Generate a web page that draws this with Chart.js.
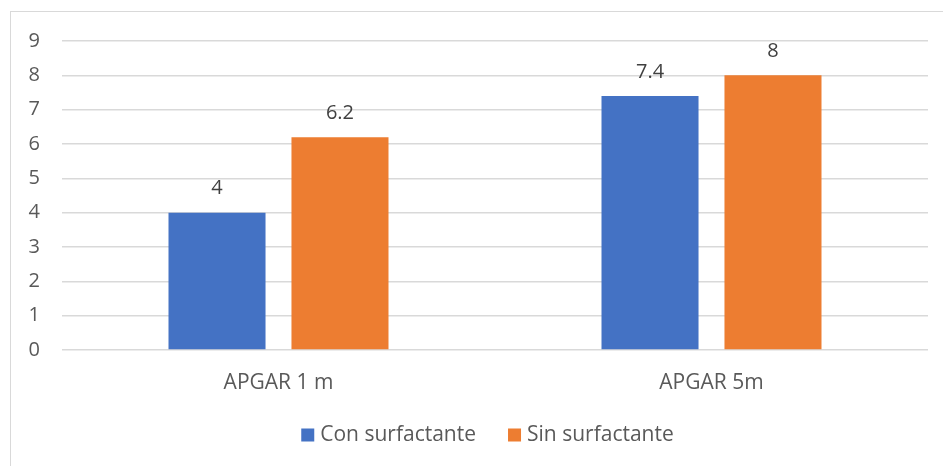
<!DOCTYPE html>
<html lang="en">
<head>
    <meta charset="UTF-8">
    <title>APGAR</title>
    <style>
        body { margin: 0; background: white; }
        #wrap { position: relative; width: 943px; height: 466px; overflow: hidden; }
        #frame {
            position: absolute; left: 10px; top: 11px; width: 960px; height: 480px;
            border: 1px solid #d9d9d9; box-sizing: border-box; pointer-events: none;
        }
        canvas { position: absolute; left: 0; top: 0; }
    </style>
    <script src="https://cdn.jsdelivr.net/npm/chart.js"></script>
</head>
<body>
    <div id="wrap">
        <canvas id="chart" width="943" height="466"></canvas>
        <div id="frame"></div>
    </div>
    <script>
        const categories = ['APGAR 1 m', 'APGAR 5m'];
        const conSurfactante = [4, 7.4];
        const sinSurfactante = [6.2, 8];
        const yTicks = [0, 1, 2, 3, 4, 5, 6, 7, 8, 9];

        const textColor = '#595959';
        const fontFamily = '"Open Sans", Calibri, sans-serif';

        // draws the value above each bar
        const valueLabels = {
            id: 'valueLabels',
            afterDatasetsDraw(chart) {
                const ctx = chart.ctx;
                ctx.save();
                ctx.font = '20px ' + fontFamily;
                ctx.fillStyle = '#404040';
                ctx.textAlign = 'center';
                ctx.textBaseline = 'middle';
                chart.data.datasets.forEach((ds, i) => {
                    chart.getDatasetMeta(i).data.forEach((bar, j) => {
                        ctx.fillText(String(ds.data[j]), bar.x, bar.y - 24);
                    });
                });
                ctx.restore();
            }
        };

        // legend drawn by hand so it can sit a bit right of centre, like the original
        const bottomLegend = {
            id: 'bottomLegend',
            afterDraw(chart) {
                const ctx = chart.ctx;
                const box = 13, gap = 6, spacing = 32, y = 435;
                ctx.save();
                ctx.font = '21px ' + fontFamily;
                ctx.textBaseline = 'middle';
                const items = chart.data.datasets.map(ds => ({
                    text: ds.label, color: ds.backgroundColor, w: ctx.measureText(ds.label).width
                }));
                const total = items.reduce((s, it) => s + box + gap + it.w, 0) + spacing * (items.length - 1);
                let x = 487.5 - total / 2;
                items.forEach(it => {
                    ctx.fillStyle = it.color;
                    ctx.fillRect(x, y - box / 2, box, box);
                    ctx.fillStyle = textColor;
                    ctx.fillText(it.text, x + box + gap, y);
                    x += box + gap + it.w + spacing;
                });
                ctx.restore();
            }
        };

        new Chart(document.getElementById('chart'), {
            type: 'bar',
            data: {
                labels: categories,
                datasets: [{
                    label: 'Con surfactante',
                    data: conSurfactante,
                    backgroundColor: '#4472c4'
                }, {
                    label: 'Sin surfactante',
                    data: sinSurfactante,
                    backgroundColor: '#ed7d31'
                }]
            },
            options: {
                responsive: false,
                animation: false,
                categoryPercentage: 0.568,
                barPercentage: 0.789,
                layout: { padding: { left: 0, right: 15, top: 41, bottom: 67 } },
                scales: {
                    x: {
                        grid: { display: false },
                        border: { display: false },
                        ticks: { color: textColor, font: { family: fontFamily, size: 21 }, padding: 12 },
                        afterFit(scale) { scale.height = 49; }
                    },
                    y: {
                        min: 0,
                        max: 9,
                        afterBuildTicks(scale) { scale.ticks = yTicks.map(v => ({ value: v })); },
                        grid: { color: '#d9d9d9', lineWidth: 1.5, drawTicks: false },
                        border: { display: false },
                        ticks: { color: textColor, font: { family: fontFamily, size: 20 }, padding: 22 },
                        afterFit(scale) { scale.width = 62; }
                    }
                },
                plugins: {
                    tooltip: { enabled: false },
                    legend: { display: false }
                }
            },
            plugins: [valueLabels, bottomLegend]
        });
    </script>
</body>
</html>
